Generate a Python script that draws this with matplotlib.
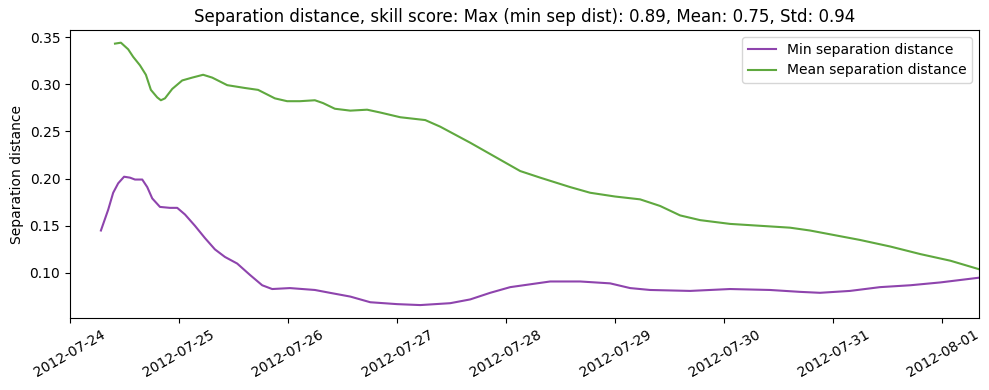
import numpy as np
import pandas as pd
import matplotlib
matplotlib.use("Agg")
import matplotlib.pyplot as plt
import matplotlib.dates as mdates

start = pd.Timestamp("2012-07-24")

# hours since 2012-07-24 00:00
min_hours = [6.8, 8.4, 9.5, 10.6, 11.9, 13.2, 14.3, 15.9, 17.0, 18.1, 19.8, 22.0,
             23.6, 25.3, 27.5, 29.7, 31.9, 34.1, 36.8, 39.6, 42.3, 44.5, 48.4,
             53.9, 57.2, 61.7, 66.1, 72.0, 77.1, 83.7, 88.1, 92.5, 96.9, 101.3,
             105.7, 112.3, 118.9, 123.3, 127.7, 136.5, 145.3, 154.1, 160.7,
             165.1, 171.7, 178.3, 185.0, 191.6, 200.1]
min_sep = [0.145, 0.167, 0.185, 0.195, 0.202, 0.201, 0.199, 0.199, 0.191, 0.179,
           0.170, 0.169, 0.169, 0.162, 0.150, 0.137, 0.125, 0.117, 0.110, 0.098,
           0.087, 0.083, 0.084, 0.082, 0.079, 0.075, 0.069, 0.067, 0.066, 0.068,
           0.072, 0.079, 0.085, 0.088, 0.091, 0.091, 0.089, 0.084, 0.082, 0.081,
           0.083, 0.082, 0.080, 0.079, 0.081, 0.085, 0.087, 0.090, 0.095]

mean_hours = [9.9, 11.2, 12.8, 13.9, 15.4, 16.7, 17.8, 19.2, 20.0, 20.9, 22.5,
              24.7, 26.9, 29.3, 31.3, 34.6, 38.5, 41.4, 45.1, 47.8, 50.6, 53.9,
              55.7, 58.3, 61.7, 65.4, 68.3, 72.7, 78.2, 81.5, 88.1, 92.5, 95.8,
              99.1, 103.5, 106.8, 110.1, 114.5, 120.0, 125.5, 129.9, 134.3,
              138.7, 145.3, 151.9, 158.5, 162.9, 167.3, 173.9, 180.6, 187.2,
              193.8, 200.1]
mean_sep = [0.343, 0.344, 0.337, 0.329, 0.320, 0.310, 0.294, 0.286, 0.283, 0.285,
            0.295, 0.304, 0.307, 0.310, 0.307, 0.299, 0.296, 0.294, 0.285, 0.282,
            0.282, 0.283, 0.280, 0.274, 0.272, 0.273, 0.270, 0.265, 0.262, 0.255,
            0.238, 0.226, 0.217, 0.208, 0.201, 0.196, 0.191, 0.185, 0.181, 0.178,
            0.171, 0.161, 0.156, 0.152, 0.150, 0.148, 0.145, 0.141, 0.135, 0.128,
            0.120, 0.113, 0.104]


def main():
    t_min = start + pd.to_timedelta(min_hours, unit="h")
    t_mean = start + pd.to_timedelta(mean_hours, unit="h")

    fig, ax = plt.subplots(figsize=(9.89, 3.9), dpi=100)
    ax.plot(t_min, min_sep, color="#8e44ad", label="Min separation distance")
    ax.plot(t_mean, mean_sep, color="#5fa83f", label="Mean separation distance")

    ax.set_xlim(start, max(t_min[-1], t_mean[-1]))
    ax.set_ylim(0.0523, 0.3574)
    ax.xaxis.set_major_locator(mdates.DayLocator())
    ax.xaxis.set_major_formatter(mdates.DateFormatter("%Y-%m-%d"))
    plt.setp(ax.get_xticklabels(), rotation=30)
    ax.set_ylabel("Separation distance")
    ax.set_title("Separation distance, skill score: Max (min sep dist): 0.89, Mean: 0.75, Std: 0.94")
    ax.legend()

    fig.subplots_adjust(left=0.0708, right=0.9899, top=0.923, bottom=0.1846)
    fig.savefig("out.png")


if __name__ == "__main__":
    main()
